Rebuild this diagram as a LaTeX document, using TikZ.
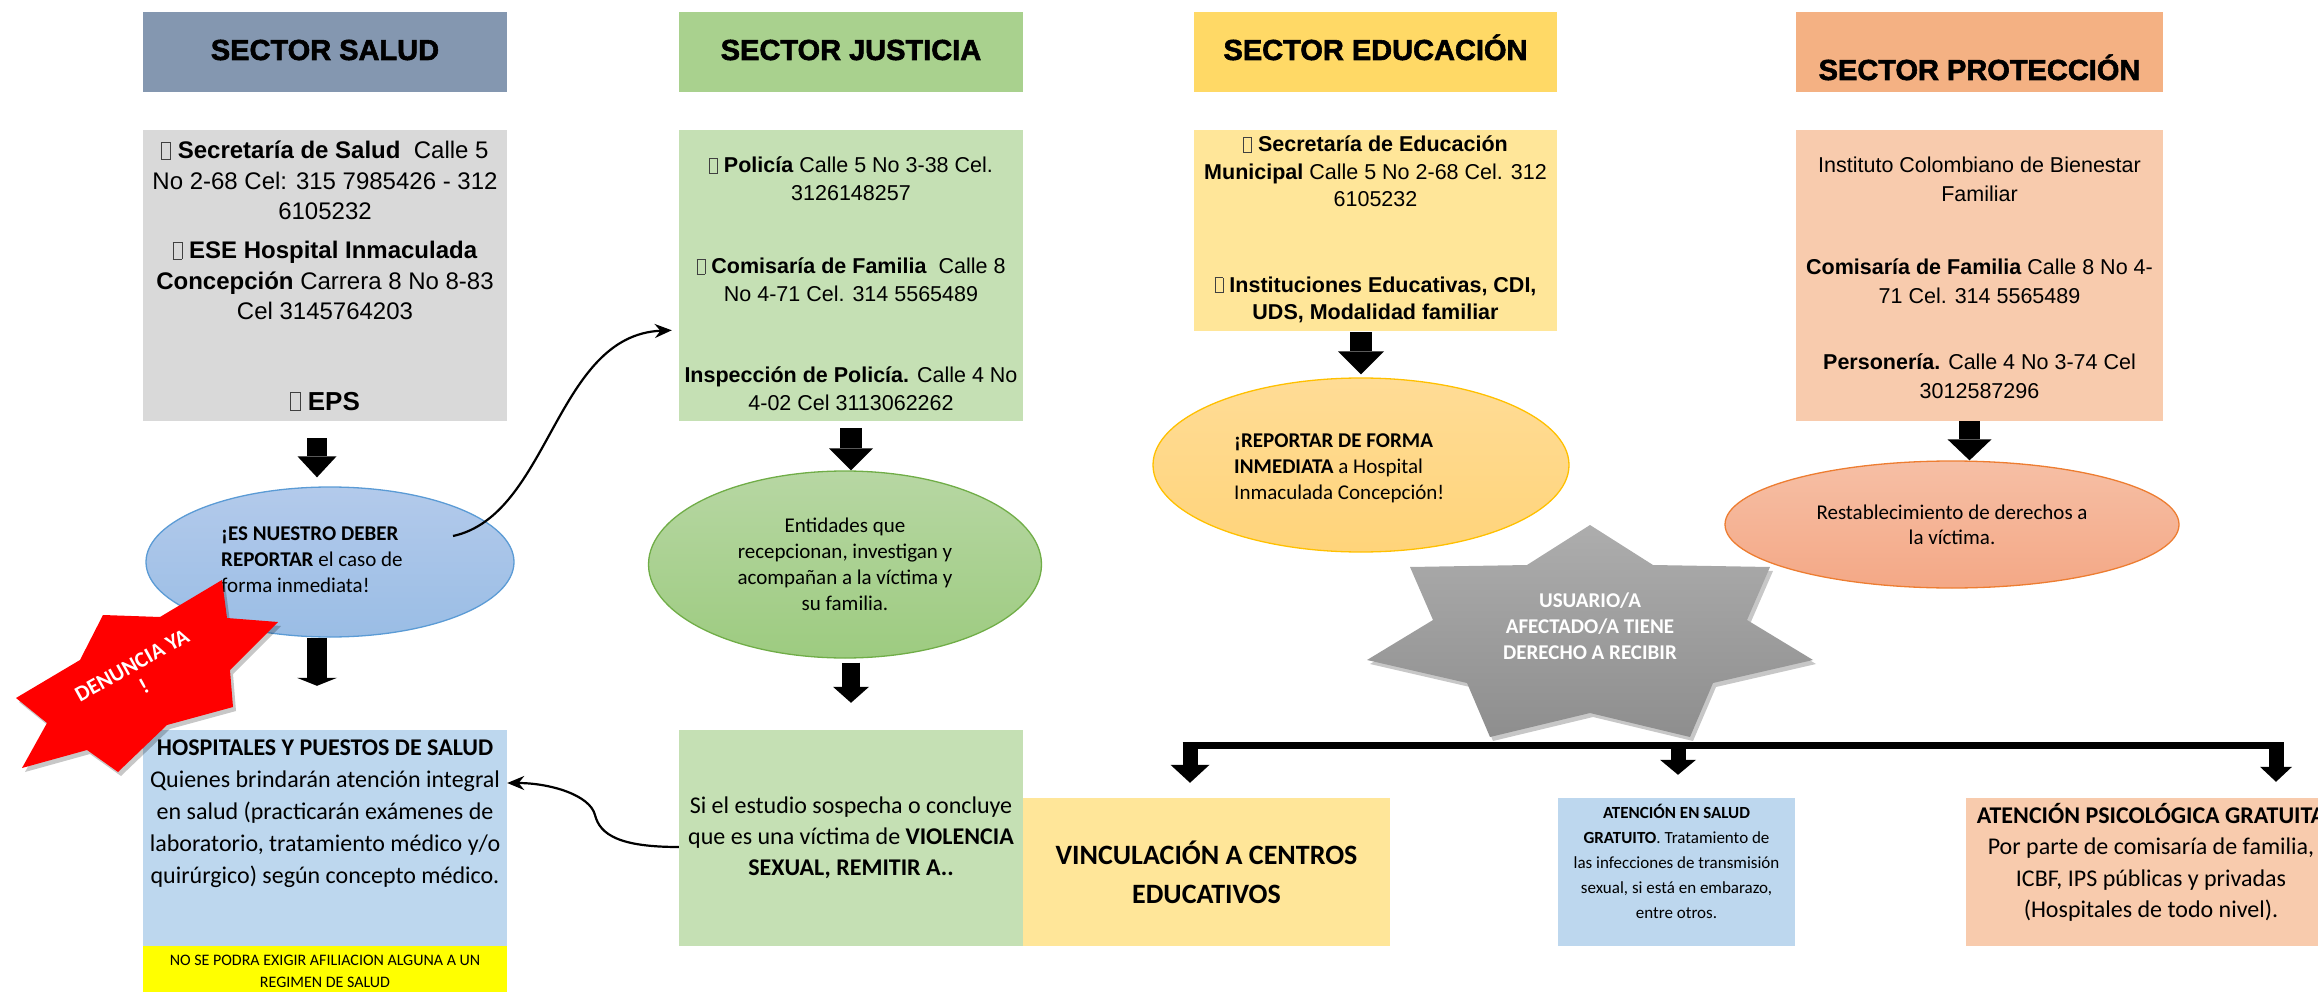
\documentclass[tikz,border=0pt]{standalone}
\usepackage{fontspec}
\setmainfont{Liberation Sans}
\newfontfamily\calibri{Carlito}
\newfontfamily\headfont[BoldFeatures={FakeBold=2}]{Liberation Sans}
\usetikzlibrary{arrows.meta,positioning,shapes.geometric,shadows}

\definecolor{saludhead}{HTML}{8497B0}
\definecolor{saludbox}{HTML}{D9D9D9}
\definecolor{justhead}{HTML}{A9D18E}
\definecolor{justbox}{HTML}{C5E0B4}
\definecolor{eduhead}{HTML}{FFD966}
\definecolor{edubox}{HTML}{FFE699}
\definecolor{prothead}{HTML}{F4B183}
\definecolor{protbox}{HTML}{F8CBAD}
\definecolor{skybox}{HTML}{BDD7EE}
\definecolor{notebox}{HTML}{FFFF00}
\definecolor{bluetop}{HTML}{B3CAEB}
\definecolor{bluebot}{HTML}{9ABDE5}
\definecolor{blueline}{HTML}{5B9BD5}
\definecolor{greentop}{HTML}{B7D7A3}
\definecolor{greenbot}{HTML}{9DCB80}
\definecolor{greenline}{HTML}{70AD47}
\definecolor{goldtop}{HTML}{FFDC96}
\definecolor{goldbot}{HTML}{FFD47A}
\definecolor{goldline}{HTML}{FFC000}
\definecolor{peachtop}{HTML}{F6BFA5}
\definecolor{peachbot}{HTML}{F4A886}
\definecolor{peachline}{HTML}{ED7D31}
\definecolor{startop}{HTML}{ADADAD}
\definecolor{starbot}{HTML}{8E8E8E}

% missing-glyph box printed in front of the items
\newcommand{\tofu}{{\color{black!75}\fboxsep=0pt\fboxrule=0.8pt\fbox{\rule{0pt}{0.66em}\hspace{0.34em}}}}

\tikzset{
  sectorhead/.style={rectangle,fill=#1,minimum height=80pt,inner sep=0pt,
    font=\headfont\bfseries\fontsize{29}{34}\selectfont,text height=16pt,text depth=0pt},
  infobox/.style={rectangle,fill=#1,inner sep=0pt},
  infotext/.style={anchor=north,inner sep=0pt,align=center,
    font=\fontsize{21.5}{28}\selectfont},
  bubble/.style={ellipse,draw=#1,line width=1.3pt,inner sep=0pt,align=center,
    font=\calibri\fontsize{21}{26}\selectfont},
  bubbletext/.style={inner sep=0pt,font=\calibri\fontsize{21}{26}\selectfont},
  card/.style={rectangle,fill=#1,inner sep=0pt,align=center,
    font=\calibri\fontsize{24}{31}\selectfont},
  cardtext/.style={anchor=north,inner sep=0pt,align=center,
    font=\calibri\fontsize{24}{32}\selectfont},
  startext/.style={inner sep=0pt,align=center,text=white,
    font=\calibri\bfseries\fontsize{21}{26}\selectfont},
  blockarrow/.style n args={3}{line width=#1,
    -{Triangle[width=#2,length=#3,line width=0pt]}},
  thinarrow/.style={line width=2.2pt,-{Stealth[length=17pt,width=14pt]}},
  starshadow/.style={drop shadow={shadow xshift=3pt,shadow yshift=-4pt,opacity=.22,fill=black}}
}

\begin{document}
\begin{tikzpicture}[x=1pt,y=-1pt]
\useasboundingbox (0,0) rectangle (2318,992);
\clip (0,0) rectangle (2318,992);

% sector headers
\node[sectorhead=saludhead,minimum width=364pt] (salud-head) at (325,52) {SECTOR SALUD};
\node[sectorhead=justhead,minimum width=344pt] (just-head) at (851,52) {SECTOR JUSTICIA};
\node[sectorhead=eduhead,minimum width=363pt] (edu-head) at (1375.5,52) {SECTOR EDUCACIÓN};
\node[sectorhead=prothead,minimum width=367pt,text height=56pt] (prot-head) at (1979.5,52) {SECTOR PROTECCIÓN};

% directories
\node[infobox=saludbox,minimum width=364pt,minimum height=291pt] (salud-info) at (325,275.5) {};
\node[infotext,font=\fontsize{24}{30.5}\selectfont] (salud-txt) at ([yshift=-11pt]salud-info.north)
  {\tofu\ \textbf{Secretaría de Salud}\ \ Calle 5\\
   No 2-68 Cel: 315 7985426 - 312\\
   6105232\\[8.5pt]
   \tofu\ \textbf{ESE Hospital Inmaculada}\\
   \textbf{Concepción} Carrera 8 No 8-83\\
   Cel 3145764203\\[60pt]
   {\fontsize{26}{30}\selectfont\tofu\ \textbf{EPS}}};

\node[infobox=justbox,minimum width=344pt,minimum height=291pt] (just-info) at (851,275.5) {};
\node[infotext] (just-txt) at ([yshift=-27pt]just-info.north)
  {\tofu\ \textbf{Policía} Calle 5 No 3-38 Cel.\\
   3126148257\\[45pt]
   \tofu\ \textbf{Comisaría de Familia}\ \ Calle 8\\
   No 4-71 Cel. 314 5565489\\[53pt]
   \textbf{Inspección de Policía.} Calle 4 No\\
   4-02 Cel 3113062262};

\node[infobox=edubox,minimum width=363pt,minimum height=201pt] (edu-info) at (1375.5,230.5) {};
\node[infotext,font=\fontsize{21.5}{27.5}\selectfont] (edu-txt) at ([yshift=-6pt]edu-info.north)
  {\tofu\ \textbf{Secretaría de Educación}\\
   \textbf{Municipal} Calle 5 No 2-68 Cel. 312\\
   6105232\\[58pt]
   \tofu\ \textbf{Instituciones Educativas, CDI,}\\
   \textbf{UDS, Modalidad familiar}};

\node[infobox=protbox,minimum width=367pt,minimum height=291pt] (prot-info) at (1979.5,275.5) {};
\node[infotext,font=\fontsize{21.5}{29}\selectfont] (prot-txt) at ([yshift=-27pt]prot-info.north)
  {Instituto Colombiano de Bienestar\\
   Familiar\\[44pt]
   \textbf{Comisaría de Familia} Calle 8 No 4-\\
   71 Cel. 314 5565489\\[37pt]
   \textbf{Personería.} Calle 4 No 3-74 Cel\\
   3012587296};

% bubbles
\node[bubble=blueline,top color=bluetop,bottom color=bluebot,minimum width=368pt,minimum height=150pt] (salud-ell) at (330,562) {};
\node[bubbletext,anchor=west,align=left] (salud-ell-txt) at (221,560)
  {\textbf{¡ES NUESTRO DEBER}\\ \textbf{REPORTAR} el caso de\\ forma inmediata!};

\node[bubble=greenline,top color=greentop,bottom color=greenbot,minimum width=393pt,minimum height=187pt] (just-ell) at (845,564.5)
  {Entidades que\\recepcionan, investigan y\\acompañan a la víctima y\\su familia.};

\node[bubble=goldline,top color=goldtop,bottom color=goldbot,minimum width=416pt,minimum height=174pt] (edu-ell) at (1361,465) {};
\node[bubbletext,anchor=west,align=left] (edu-ell-txt) at (1234,468)
  {\textbf{¡REPORTAR DE FORMA}\\ \textbf{INMEDIATA} a Hospital\\ Inmaculada Concepción!};

\node[bubble=peachline,top color=peachtop,bottom color=peachbot,minimum width=454pt,minimum height=127pt,
  font=\calibri\fontsize{21}{25}\selectfont] (prot-ell) at (1952,524.5)
  {Restablecimiento de derechos a\\la víctima.};

% lower cards
\node[card=skybox,minimum width=364pt,minimum height=216pt] (hosp) at (325,838) {};
\node[cardtext] (hosp-txt) at ([yshift=-10pt]hosp.north)
  {\textbf{HOSPITALES Y PUESTOS DE SALUD}\\
   Quienes brindarán atención integral\\
   en salud (practicarán exámenes de\\
   laboratorio, tratamiento médico y/o\\
   quirúrgico) según concepto médico.};
\node[card=notebox,minimum width=364pt,minimum height=46pt] (note) at (325,969) {};
\node[cardtext,font=\calibri\fontsize{16}{22}\selectfont] (note-txt) at ([yshift=-9pt]note.north)
  {NO SE PODRA EXIGIR AFILIACION ALGUNA A UN\\REGIMEN DE SALUD};

\node[card=justbox,minimum width=344pt,minimum height=216pt] (remit) at (851,838)
  {Si el estudio sospecha o concluye\\que es una víctima de \textbf{VIOLENCIA}\\\textbf{SEXUAL, REMITIR A..}};
\node[card=edubox,minimum width=367pt,minimum height=148pt,
  font=\calibri\bfseries\fontsize{28}{39}\selectfont] (vinc) at (1206.5,872)
  {VINCULACIÓN A CENTROS\\EDUCATIVOS};
\node[card=skybox,minimum width=237pt,minimum height=148pt] (salud2) at (1676.5,872) {};
\node[cardtext,font=\calibri\fontsize{17}{25}\selectfont] (salud2-txt) at ([yshift=-6pt]salud2.north)
  {\textbf{ATENCIÓN EN SALUD}\\ \textbf{GRATUITO}. Tratamiento de\\las infecciones de transmisión\\sexual, si está en embarazo,\\entre otros.};
\node[card=protbox,minimum width=370pt,minimum height=148pt] (psico) at (2151,872) {};
\node[cardtext,font=\calibri\fontsize{24}{31.5}\selectfont] (psico-txt) at ([yshift=-5pt]psico.north)
  {\makebox[340pt]{\textbf{ATENCIÓN PSICOLÓGICA GRATUITA}}\\Por parte de comisaría de familia,\\ICBF, IPS públicas y privadas\\(Hospitales de todo nivel).};

% block arrows
\draw[blockarrow={20pt}{39pt}{21pt},shorten <=17pt,shorten >=9pt]
  ([xshift=-8pt]salud-info.south) -- ([xshift=-8pt]salud-info.south |- salud-ell.north);
\draw[blockarrow={20pt}{40pt}{8pt},shorten >=44pt]
  ([xshift=-13pt]salud-ell.south) -- ([xshift=-13pt]salud-ell.south |- hosp.north);
\draw[blockarrow={22pt}{44pt}{22pt},shorten <=7pt]
  (just-info.south) -- (just-info.south |- just-ell.north);
\draw[blockarrow={18pt}{36pt}{16pt},shorten <=4pt,shorten >=27pt]
  (just-info.south |- just-ell.south) -- (just-info.south |- remit.north);
\draw[blockarrow={22pt}{46pt}{23pt},shorten <=1pt,shorten >=3pt]
  (edu-ell.north |- edu-info.south) -- (edu-ell.north);
\draw[blockarrow={21pt}{44pt}{21pt}]
  ([xshift=-10pt]prot-info.south) -- ([xshift=-10pt]prot-info.south |- prot-ell.north);

% curved links
\draw[thinarrow,shorten >=7pt] ([xshift=123pt,yshift=26pt]salud-ell.center)
  .. controls (550,515) and (555,335) .. ([yshift=-54.5pt]just-info.west);
\draw[thinarrow] ([yshift=-9pt]remit.west)
  .. controls (620,847) and (600,835) .. (595,815)
  .. controls (590,795) and (550,783) .. ([yshift=55pt]hosp.east);

% rights star and branches
\path[top color=startop,bottom color=starbot,starshadow]
  (1590,525) -- (1653,565) -- (1770,567) -- (1747,620) -- (1813,660) -- (1713,683)
  -- (1690,737) -- (1590,713) -- (1490,737) -- (1467,683) -- (1367,660)
  -- (1433,620) -- (1410,567) -- (1527,565) -- cycle;
\node[startext] (usuario-txt) at (1590,626) {USUARIO/A\\AFECTADO/A TIENE\\DERECHO A RECIBIR};

\coordinate (bus-l) at (1190,745);
\coordinate (bus-m) at (1678,745);
\coordinate (bus-r) at (2276,745);
\draw[line width=7pt] ([xshift=-7.5pt]bus-l) -- ([xshift=7.5pt]bus-r);
\draw[blockarrow={15pt}{39pt}{18pt},shorten >=15pt] (bus-l) -- (bus-l |- vinc.north);
\draw[blockarrow={15pt}{36pt}{15pt},shorten >=23pt] (bus-m) -- (bus-m |- salud2.north);
\draw[blockarrow={15pt}{32pt}{15pt},shorten >=16pt] (bus-r) -- (bus-r |- psico.north);

% red star
\path[fill=red,starshadow]
  (222,580) -- (227,618) -- (278,622) -- (230,670) -- (233,707) -- (167,725)
  -- (118,772) -- (87,750) -- (22,768) -- (47,723) -- (16,698) -- (80,660)
  -- (103,615) -- (160,617) -- cycle;
\node[startext,font=\calibri\bfseries\fontsize{22}{25}\selectfont,rotate=29] (denuncia-txt) at (138,676) {DENUNCIA YA\\!};
\end{tikzpicture}
\end{document}
